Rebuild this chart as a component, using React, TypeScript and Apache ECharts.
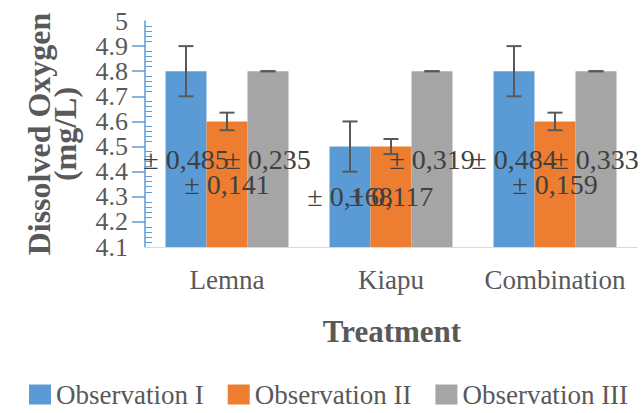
import React, { useEffect, useRef } from "react";
import * as echarts from "echarts";

const categories = ["Lemna", "Kiapu", "Combination"];
const seriesNames = ["Observation I", "Observation II", "Observation III"];
const obs1 = [4.8, 4.5, 4.8];
const obs2 = [4.6, 4.5, 4.6];
const obs3 = [4.8, 4.8, 4.8];
const err1 = [0.1, 0.1, 0.1];
const err2 = [0.035, 0.03, 0.035];
const err3 = [0, 0, 0];
const sdLabels1 = ["± 0,485", "± 0,168", "± 0,484"];
const sdLabels2 = ["± 0,141", "± 0,117", "± 0,159"];
const sdLabels3 = ["± 0,235", "± 0,319", "± 0,333"];
const colors = ["#5B9BD5", "#ED7D31", "#A5A5A5"];
const yMin = 4.1;
const yMax = 5;
const yStep = 0.1;
const yEndStep = 0.9;

const FONT = "'Liberation Serif', 'Times New Roman', serif";

export default function App() {
  const ref = useRef<HTMLDivElement>(null);
  useEffect(() => {
    if (!ref.current) return;
    const chart = echarts.init(ref.current, undefined, { renderer: "svg" });
    const values = [obs1, obs2, obs3];
    const errs = [err1, err2, err3];
    const labels = [sdLabels1, sdLabels2, sdLabels3];
    const errData: number[][] = [];
    values.forEach((arr, si) =>
      arr.forEach((v, ci) => errData.push([ci, v, errs[si][ci], si]))
    );
    const gridLeft = 145;
    const gridRight = 5;
    const tickLabel = {
      fontFamily: FONT,
      fontSize: 26,
      color: "#595959",
      margin: 17,
    };
    const barSeries = values.map((arr, si) => ({
      name: seriesNames[si],
      type: "bar",
      data: arr,
      barGap: "0%",
      barCategoryGap: "25%",
      itemStyle: { color: colors[si] },
      label: {
        show: true,
        position: "inside",
        formatter: (p: any) => labels[si][p.dataIndex],
        fontFamily: FONT,
        fontSize: 28,
        color: "#404040",
      },
    }));
    chart.setOption({
      animation: false,
      textStyle: { fontFamily: FONT },
      grid: { left: gridLeft, right: gridRight, top: 21, bottom: 166, containLabel: false },
      legend: {
        data: seriesNames,
        left: 24,
        top: 376,
        icon: "rect",
        itemWidth: 22,
        itemHeight: 20,
        itemGap: 24,
        textStyle: { fontFamily: FONT, fontSize: 27, color: "#595959" },
      },
      xAxis: {
        type: "category",
        data: categories,
        axisLine: { lineStyle: { color: "#D9D9D9", width: 1 } },
        axisTick: { show: false },
        axisLabel: { interval: 0, fontFamily: FONT, fontSize: 27, color: "#595959", margin: 19 },
      },
      yAxis: [
        {
          type: "value",
          position: "left",
          min: yMin,
          max: yMax,
          interval: yStep,
          axisLine: { show: true, lineStyle: { color: "#5B9BD5", width: 1.5 } },
          axisTick: { show: true, length: 13, lineStyle: { color: "#5B9BD5", width: 1.5 } },
          axisLabel: { ...tickLabel, showMinLabel: false, showMaxLabel: false },
          splitLine: { show: false },
        },
        {
          type: "value",
          position: "right",
          offset: -(642 - gridLeft - gridRight),
          min: yMin,
          max: yMax,
          interval: yStep,
          axisLine: { show: false },
          axisTick: { show: false },
          axisLabel: { show: false },
          splitLine: { show: false },
          minorTick: { show: true, splitNumber: 5, length: 7, lineStyle: { color: "#5B9BD5", width: 1 } },
          minorSplitLine: { show: false },
        },
        {
          type: "value",
          position: "left",
          min: yMin,
          max: yMax,
          interval: yEndStep,
          axisLine: { show: false },
          axisTick: { show: false },
          axisLabel: { ...tickLabel, showMinLabel: true, showMaxLabel: true },
          splitLine: { show: false },
        },
      ],
      graphic: [
        {
          type: "text",
          x: 52,
          y: 134,
          rotation: Math.PI / 2,
          style: {
            text: "Dissolved Oxygen\n(mg/L)",
            fontFamily: FONT,
            fontSize: 32,
            fontWeight: "bold",
            fill: "#595959",
            align: "center",
            verticalAlign: "middle",
            lineHeight: 26,
          },
        },
        {
          type: "text",
          x: 392,
          y: 331,
          style: {
            text: "Treatment",
            fontFamily: FONT,
            fontSize: 31,
            fontWeight: "bold",
            fill: "#595959",
            align: "center",
            verticalAlign: "middle",
          },
        },
      ],
      series: [
        ...barSeries,
        {
          type: "custom",
          name: "err",
          z: 5,
          encode: { x: 0, y: 1 },
          data: errData,
          renderItem: (params: any, api: any) => {
            const cat = api.value(0);
            const val = api.value(1);
            const err = api.value(2);
            const si = api.value(3);
            const band = api.size([1, 0])[0];
            const bw = (band * 0.75) / 3;
            const off = (si - 1) * bw;
            const top = api.coord([cat, val + err]);
            const bot = api.coord([cat, val - err]);
            const x = top[0] + off;
            const hw = 7.5;
            const style = { stroke: "#595959", lineWidth: 2 };
            return {
              type: "group",
              children: [
                { type: "line", shape: { x1: x, y1: top[1], x2: x, y2: bot[1] }, style },
                { type: "line", shape: { x1: x - hw, y1: top[1], x2: x + hw, y2: top[1] }, style },
                { type: "line", shape: { x1: x - hw, y1: bot[1], x2: x + hw, y2: bot[1] }, style },
              ],
            };
          },
        },
      ],
    });
    return () => chart.dispose();
  }, []);
  return (
    <div
      ref={ref}
      style={{ position: "fixed", left: 0, top: 0, width: 642, height: 413, background: "#fff" }}
    />
  );
}
